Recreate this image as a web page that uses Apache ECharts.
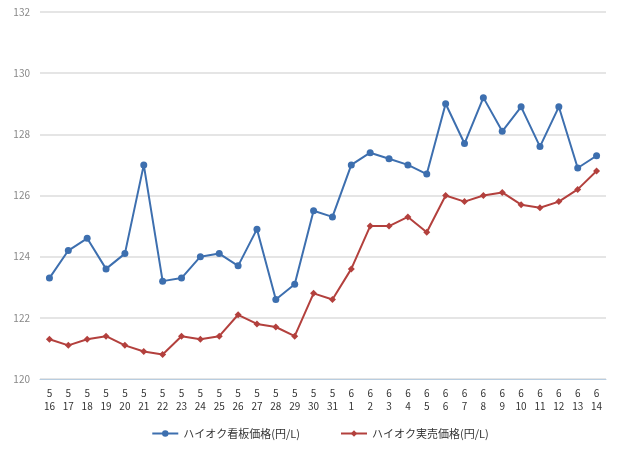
<!DOCTYPE html>
<html>
<head>
<meta charset="UTF-8">
<script src="https://cdn.jsdelivr.net/npm/echarts@6/dist/echarts.min.js"></script>
<style>html,body{margin:0;background:#fff}#c{width:640px;height:458px}</style>
</head>
<body>
<div id="c"></div>
<script>
// 日付（月\n日）
var days = ['5\n16','5\n17','5\n18','5\n19','5\n20','5\n21','5\n22','5\n23','5\n24','5\n25','5\n26','5\n27','5\n28','5\n29','5\n30','5\n31',
  '6\n1','6\n2','6\n3','6\n4','6\n5','6\n6','6\n7','6\n8','6\n9','6\n10','6\n11','6\n12','6\n13','6\n14'];
var kanban = [123.3,124.2,124.6,123.6,124.1,127.0,123.2,123.3,124.0,124.1,123.7,124.9,122.6,123.1,125.5,125.3,
  127.0,127.4,127.2,127.0,126.7,129.0,127.7,129.2,128.1,128.9,127.6,128.9,126.9,127.3];
var jissai = [121.3,121.1,121.3,121.4,121.1,120.9,120.8,121.4,121.3,121.4,122.1,121.8,121.7,121.4,122.8,122.6,
  123.6,125.0,125.0,125.3,124.8,126.0,125.8,126.0,126.1,125.7,125.6,125.8,126.2,126.8];

var chart = echarts.init(document.getElementById('c'));
chart.setOption({
  animation: false,
  textStyle: {fontFamily: '"Noto Sans CJK JP", sans-serif'},
  grid: {left: 40, right: 34, top: 12, bottom: 79, containLabel: false},
  legend: {
    bottom: 14, left: 'center', itemGap: 40, itemWidth: 26, itemHeight: 8,
    textStyle: {fontSize: 11, color: '#333'},
    data: ['ハイオク看板価格(円/L)', 'ハイオク実売価格(円/L)']
  },
  xAxis: {
    type: 'category', data: days, boundaryGap: true,
    axisLine: {lineStyle: {color: '#b8cde0'}},
    axisTick: {length: 8, lineStyle: {color: '#b8cde0'}},
    axisLabel: {color: '#333', fontSize: 10, lineHeight: 13, interval: 0}
  },
  yAxis: {
    type: 'value', min: 120, max: 132, interval: 2,
    axisLine: {show: false}, axisTick: {show: false},
    axisLabel: {color: '#888', fontSize: 10, margin: 10},
    splitLine: {lineStyle: {color: '#dcdcdc', width: 1.5}}
  },
  series: [
    {name: 'ハイオク看板価格(円/L)', type: 'line', data: kanban, symbol: 'circle', symbolSize: 7,
      lineStyle: {color: '#3d6faf', width: 2}, itemStyle: {color: '#3d6faf'}},
    {name: 'ハイオク実売価格(円/L)', type: 'line', data: jissai, symbol: 'diamond', symbolSize: 7,
      lineStyle: {color: '#b3403d', width: 2}, itemStyle: {color: '#b3403d'}}
  ]
});
</script>
</body>
</html>
